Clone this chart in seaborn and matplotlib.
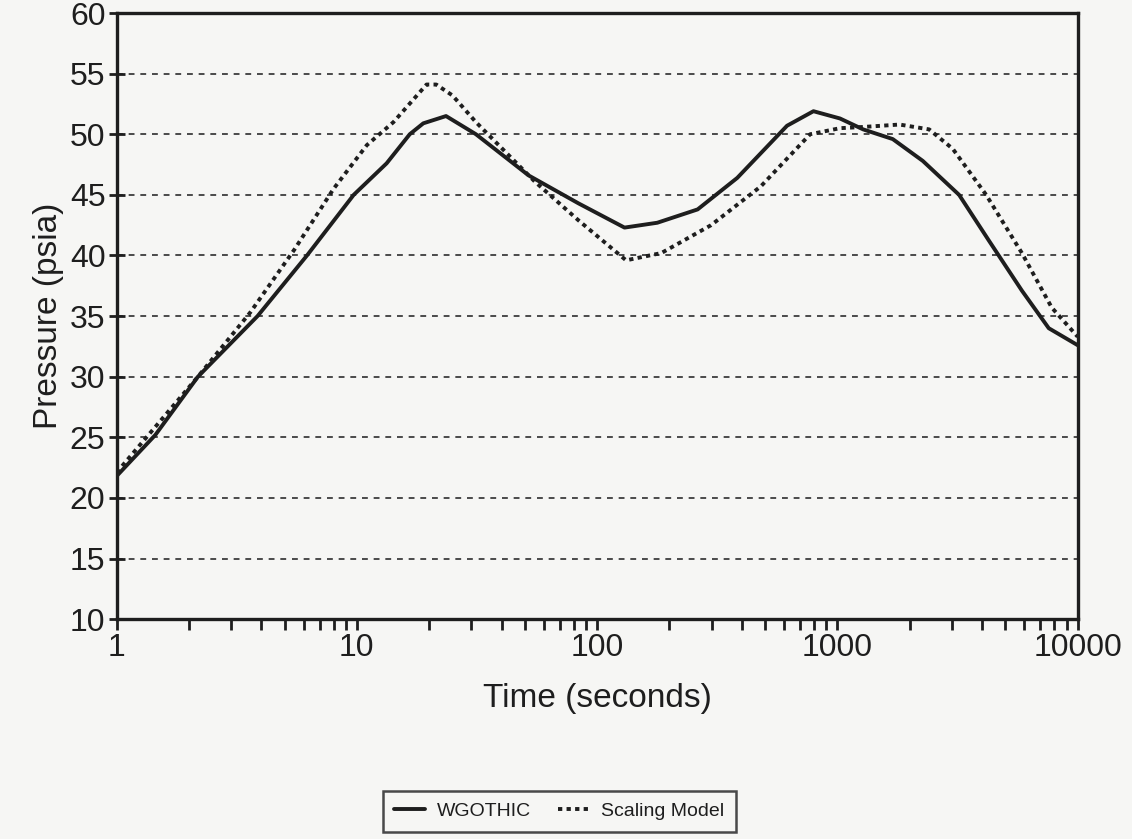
import matplotlib
matplotlib.use("Agg")
from matplotlib import pyplot as plt
import seaborn as sns
import pandas as pd

# values
wg_time = [1, 1.45, 2.18, 3.86, 6.2, 9.7, 13.3, 16.6, 18.9, 23.5, 31.3, 51.9, 83.6,
           130, 178, 262, 383, 617, 795, 1025, 1280, 1700, 2267, 3210, 4280, 5860, 7580, 10000]
wg_pressure = [21.8, 25.2, 30, 35, 40, 45, 47.6, 50, 50.9, 51.5, 50, 46.6, 44.3,
               42.3, 42.7, 43.8, 46.4, 50.7, 51.9, 51.3, 50.4, 49.6, 47.8, 45, 41.2, 37.1, 34, 32.6]

sm_time = [1, 2.18, 3.6, 5.5, 8.0, 11, 14.2, 19.5, 21.4, 25, 31.3, 55, 83.6,
           132, 185, 298, 480, 770, 1025, 1280, 1815, 2410, 3020, 4160, 5860, 7800, 10000]
sm_pressure = [22.1, 30, 35.3, 40.5, 45.5, 49.1, 51, 54.1, 54.1, 53.2, 51, 46.1, 42.9,
               39.6, 40.2, 42.5, 45.7, 50, 50.5, 50.6, 50.8, 50.4, 48.8, 45, 40.2, 35.7, 33.3]

y_ticks = [10, 15, 20, 25, 30, 35, 40, 45, 50, 55, 60]
x_ticks = [1, 10, 100, 1000, 10000]
x_ticklabels = ["1", "10", "100", "1000", "10000"]

sns.set_theme(style="ticks")
plt.rcParams["font.family"] = ["Liberation Sans", "DejaVu Sans"]

ink = "#1e1e1e"
paper = "#f6f6f4"

fig = plt.figure(figsize=(11.32, 8.39), dpi=100, facecolor=paper)
ax = fig.add_axes([0.103, 0.262, 0.849, 0.7225])
ax.set_facecolor(paper)

wg = pd.DataFrame({"t": wg_time, "p": wg_pressure})
sm = pd.DataFrame({"t": sm_time, "p": sm_pressure})

sns.lineplot(data=wg, x="t", y="p", ax=ax, color=ink, lw=2.8,
             estimator=None, sort=False, label="WGOTHIC", legend=False)
sns.lineplot(data=sm, x="t", y="p", ax=ax, color=ink, lw=2.8,
             linestyle=(0, (1.1, 1.1)), estimator=None, sort=False,
             label="Scaling Model", legend=False)

ax.set_xscale("log")
ax.set_xlim(1, 10000)
ax.set_ylim(10, 60)
ax.set_yticks(y_ticks)
ax.set_xticks(x_ticks)
ax.set_xticklabels(x_ticklabels)

# dotted horizontal gridlines
for v in y_ticks[1:-1]:
    ax.axhline(v, color="#4a4a4a", lw=1.4, linestyle=(0, (3, 3)), zorder=0)

for s in ax.spines.values():
    s.set_color(ink)
    s.set_linewidth(2.4)

ax.tick_params(axis="both", which="major", labelsize=23, colors=ink, width=2,
               length=8, direction="out", pad=2)
ax.tick_params(axis="x", which="minor", colors=ink, width=2, length=8, direction="out")
ax.tick_params(axis="y", which="major", direction="inout", length=12)

ax.set_xlabel("Time (seconds)", fontsize=24, color=ink, labelpad=14)
ax.set_ylabel("Pressure (psia)", fontsize=24, color=ink, labelpad=4)

h, l = ax.get_legend_handles_labels()
leg = fig.legend(h, l, loc="center", bbox_to_anchor=(0.494, 0.033), ncol=2,
                 fontsize=14, frameon=True, fancybox=False, edgecolor=ink,
                 handlelength=1.6, handletextpad=0.6, columnspacing=1.4,
                 borderpad=0.6)
leg.get_frame().set_linewidth(1.8)
leg.get_frame().set_facecolor(paper)
for t in leg.get_texts():
    t.set_color(ink)

fig.savefig("out.png", dpi=100, facecolor=paper)
